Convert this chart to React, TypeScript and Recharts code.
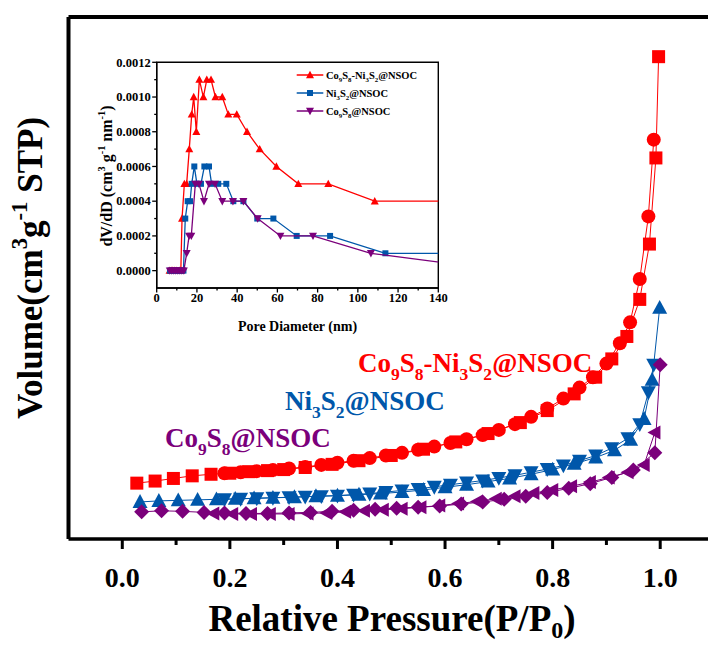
import React from 'react';
import { ScatterChart, Scatter, XAxis, YAxis, ReferenceLine, ReferenceArea, Legend, Customized } from 'recharts';

const SERIF = "'Liberation Serif', 'Times New Roman', Times, serif";
const RED = '#FF0000';
const BLUE = '#0057AA';
const PURPLE = '#7B007B';

// ---------- main isotherm (P/P0, volume in arbitrary units) ----------
const redAdsP = [0.027, 0.061, 0.095, 0.130, 0.165, 0.200, 0.235, 0.270, 0.300, 0.340, 0.390, 0.440, 0.500, 0.560, 0.620, 0.680, 0.740, 0.790, 0.840, 0.880, 0.910, 0.938, 0.962, 0.980, 0.992, 0.997];
const redAdsV = [10.7, 11.1, 11.6, 12.1, 12.4, 12.6, 12.9, 13.1, 13.3, 13.7, 14.3, 15.0, 16.0, 17.2, 18.6, 20.2, 22.3, 24.6, 27.8, 31.0, 34.5, 38.8, 45.9, 56.5, 73.0, 92.4];
const redDesP = [0.988, 0.978, 0.962, 0.944, 0.925, 0.900, 0.875, 0.850, 0.820, 0.790, 0.760, 0.730, 0.700, 0.670, 0.640, 0.610, 0.580, 0.550, 0.520, 0.490, 0.460, 0.430, 0.400, 0.370, 0.340, 0.310, 0.280, 0.250, 0.220, 0.190];
const redDesV = [76.5, 61.8, 49.8, 41.5, 37.5, 33.6, 31.0, 29.0, 26.9, 25.0, 23.4, 22.0, 20.9, 19.9, 19.1, 18.4, 17.7, 17.1, 16.5, 16.0, 15.5, 15.0, 14.6, 14.2, 13.8, 13.5, 13.2, 13.0, 12.8, 12.6];

const blueAdsP = [0.033, 0.068, 0.104, 0.140, 0.175, 0.210, 0.245, 0.280, 0.320, 0.360, 0.400, 0.440, 0.480, 0.520, 0.560, 0.600, 0.640, 0.680, 0.720, 0.760, 0.800, 0.840, 0.880, 0.915, 0.945, 0.970, 0.985, 0.999];
const blueAdsV = [7.1, 7.3, 7.4, 7.5, 7.6, 7.7, 7.8, 7.9, 8.0, 8.2, 8.3, 8.5, 8.7, 9.0, 9.4, 9.9, 10.4, 11.0, 11.6, 12.4, 13.3, 14.4, 15.6, 17.0, 19.0, 23.0, 30.5, 44.3];
const blueDesP = [0.988, 0.978, 0.962, 0.940, 0.910, 0.880, 0.850, 0.820, 0.790, 0.760, 0.730, 0.700, 0.670, 0.640, 0.610, 0.580, 0.550, 0.520, 0.490, 0.460, 0.430, 0.400, 0.370, 0.340, 0.310, 0.280, 0.250, 0.220, 0.190];
const blueDesV = [33.4, 28.1, 22.0, 19.3, 17.4, 16.0, 15.0, 14.1, 13.4, 12.8, 12.2, 11.7, 11.2, 10.8, 10.4, 10.0, 9.6, 9.3, 9.0, 8.7, 8.5, 8.3, 8.2, 8.1, 8.0, 7.9, 7.8, 7.7, 7.6];

const purpleAdsP = [0.036, 0.073, 0.112, 0.152, 0.190, 0.230, 0.270, 0.310, 0.350, 0.390, 0.430, 0.470, 0.510, 0.550, 0.590, 0.630, 0.670, 0.710, 0.750, 0.790, 0.830, 0.870, 0.910, 0.950, 0.990, 1.000];
const purpleAdsV = [5.2, 5.4, 5.3, 5.1, 5.0, 4.9, 4.9, 5.0, 5.1, 5.3, 5.5, 5.7, 5.9, 6.1, 6.3, 6.7, 7.1, 7.6, 8.2, 8.9, 9.7, 10.6, 11.8, 13.2, 16.5, 33.4];
const purpleDesP = [0.990, 0.970, 0.940, 0.905, 0.870, 0.835, 0.800, 0.765, 0.730, 0.695, 0.660, 0.625, 0.590, 0.555, 0.520, 0.485, 0.450, 0.415, 0.380, 0.345, 0.310, 0.275, 0.240, 0.205, 0.170];
const purpleDesV = [20.4, 14.2, 12.8, 11.8, 10.9, 10.1, 9.4, 8.8, 8.2, 7.7, 7.2, 6.8, 6.4, 6.1, 5.8, 5.6, 5.4, 5.2, 5.0, 4.9, 4.8, 4.8, 4.8, 4.8, 4.9];

const mainXTicks = [0, 0.1, 0.2, 0.3, 0.4, 0.5, 0.6, 0.7, 0.8, 0.9, 1.0];

// ---------- inset pore size distribution ----------
const redD = [6.4, 7.2, 8.0, 9.0, 10.0, 11.2, 12.0, 12.6, 13.75, 14.9, 16.2, 17.4, 18.4, 19.7, 21.2, 23.2, 24.9, 27.0, 29.2, 32.6, 35.6, 39.8, 44.9, 51.2, 59.5, 70.4, 85.3, 108.4, 180];
const redDV = [0, 0, 0, 0, 0, 0, 0, 0.0003, 0.0005, 0.0005, 0.0007, 0.0009, 0.0010, 0.0008, 0.0011, 0.0010, 0.0011, 0.0011, 0.0010, 0.0010, 0.0009, 0.0009, 0.0008, 0.0007, 0.0006, 0.0005, 0.0005, 0.0004, 0.0004];
const blueD = [6.6, 7.4, 8.2, 9.2, 10.2, 11.2, 12.2, 13.3, 14.2, 15.4, 16.6, 17.4, 18.7, 20.0, 22.0, 23.7, 26.0, 27.3, 30.6, 34.6, 38.1, 43.1, 50.0, 58.0, 69.6, 86.2, 113.7, 180];
const blueDV = [0, 0, 0, 0, 0, 0, 0, 0, 0.0003, 0.0004, 0.0004, 0.0005, 0.0006, 0.0005, 0.0005, 0.0006, 0.0006, 0.0005, 0.0005, 0.0005, 0.0004, 0.0004, 0.0003, 0.0003, 0.0002, 0.0002, 0.0001, 0.0001];
const purpleD = [6.5, 7.5, 8.5, 9.5, 10.5, 11.5, 12.5, 13.5, 14.9, 16.1, 17.2, 19.2, 21.0, 23.5, 26.0, 29.0, 32.6, 37.9, 43.1, 50.2, 61.5, 77.7, 106.5, 170];
const purpleDV = [0, 0, 0, 0, 0, 0, 0, 0, 0.0001, 0.0002, 0.0002, 0.0005, 0.0005, 0.0004, 0.0005, 0.0005, 0.0004, 0.0004, 0.0004, 0.0003, 0.0002, 0.0002, 0.0001, 0.000005];

const insetXTicks = [0, 10, 20, 30, 40, 50, 60, 70, 80, 90, 100, 110, 120, 130, 140];
const insetYTicks = [0, 0.0001, 0.0002, 0.0003, 0.0004, 0.0005, 0.0006, 0.0007, 0.0008, 0.0009, 0.0010, 0.0011, 0.0012];

type Part = [string, number]; // 0 normal, 1 subscript, 2 superscript
const labelRed: Part[] = [['Co', 0], ['9', 1], ['S', 0], ['8', 1], ['-Ni', 0], ['3', 1], ['S', 0], ['2', 1], ['@NSOC', 0]];
const labelBlue: Part[] = [['Ni', 0], ['3', 1], ['S', 0], ['2', 1], ['@NSOC', 0]];
const labelPurple: Part[] = [['Co', 0], ['9', 1], ['S', 0], ['8', 1], ['@NSOC', 0]];
const yTitle: Part[] = [['Volume(cm', 0], ['3', 2], ['g', 0], ['-1', 2], [' STP)', 0]];
const xTitle: Part[] = [['Relative Pressure(P/P', 0], ['0', 1], [')', 0]];
const insetYTitle: Part[] = [['dV/dD (cm', 0], ['3', 2], [' g', 0], ['-1', 2], [' nm', 0], ['-1', 2], [')', 0]];

const zip = (xs: number[], ys: number[], kx: string, ky: string) => xs.map((x, i) => ({ [kx]: x, [ky]: ys[i] }));

function rich(parts: Part[], fs: number, subShift = 0.28) {
  let cur = 0;
  return parts.map(([t, k], i) => {
    const target = k === 1 ? fs * subShift : k === 2 ? -fs * 0.42 : 0;
    const dy = target - cur;
    cur = target;
    return (
      <tspan key={i} dy={dy} fontSize={k ? fs * 0.65 : fs}>{t}</tspan>
    );
  });
}

const mkShape = (kind: string, color: string, s: number) => (props: any) => {
  const { cx, cy } = props;
  if (cx == null || cy == null || isNaN(cx) || isNaN(cy)) return <g />;
  const h = s / 2;
  switch (kind) {
    case 'square':
      return <rect x={cx - h} y={cy - h} width={s} height={s} fill={color} />;
    case 'circle':
      return <circle cx={cx} cy={cy} r={h} fill={color} />;
    case 'triUp':
      return <polygon points={`${cx},${cy - h * 1.05} ${cx - h},${cy + h * 0.8} ${cx + h},${cy + h * 0.8}`} fill={color} />;
    case 'triDown':
      return <polygon points={`${cx},${cy + h * 1.05} ${cx - h},${cy - h * 0.8} ${cx + h},${cy - h * 0.8}`} fill={color} />;
    case 'diamond':
      return <polygon points={`${cx},${cy - h} ${cx + h},${cy} ${cx},${cy + h} ${cx - h},${cy}`} fill={color} />;
    case 'triLeft':
      return <polygon points={`${cx - h * 1.05},${cy} ${cx + h * 0.8},${cy - h} ${cx + h * 0.8},${cy + h}`} fill={color} />;
    default:
      return <g />;
  }
};

function MainXTick(props: any) {
  const { x, y, payload } = props;
  const v = payload.value as number;
  const major = Math.round(v * 10) % 2 === 0;
  return (
    <g>
      <line x1={x} x2={x} y1={y} y2={y + (major ? 10 : 6)} stroke="#000" strokeWidth={3} />
      {major ? (
        <text x={x} y={y + 48} textAnchor="middle" fontFamily={SERIF} fontWeight="bold" fontSize={28} fill="#000">
          {v.toFixed(1)}
        </text>
      ) : null}
    </g>
  );
}

function InsetXTick(props: any) {
  const { x, y, payload } = props;
  const v = payload.value as number;
  const major = Math.round(v / 10) % 2 === 0;
  return (
    <g>
      <line x1={x} x2={x} y1={y} y2={y + (major ? 4.5 : 2.5)} stroke="#000" strokeWidth={1.3} />
      {major ? (
        <text x={x} y={y + 14} textAnchor="middle" fontFamily={SERIF} fontWeight="bold" fontSize={12.5} fill="#000">
          {v}
        </text>
      ) : null}
    </g>
  );
}

function InsetYTick(props: any) {
  const { x, y, payload } = props;
  const v = payload.value as number;
  const major = Math.round(v * 10000) % 2 === 0;
  return (
    <g>
      <line x1={x} x2={x - (major ? 4.5 : 2.5)} y1={y} y2={y} stroke="#000" strokeWidth={1.3} />
      {major ? (
        <text x={x - 6} y={y + 4.3} textAnchor="end" fontFamily={SERIF} fontWeight="bold" fontSize={12.5} fill="#000">
          {v.toFixed(4)}
        </text>
      ) : null}
    </g>
  );
}

function MainYTitle() {
  return (
    <text x={42} y={268} transform="rotate(-90 42 268)" textAnchor="middle" fontFamily={SERIF} fontWeight="bold" fontSize={35} fill="#000">
      {rich(yTitle, 35)}
    </text>
  );
}

function MainXTitle() {
  return (
    <text x={392} y={631} textAnchor="middle" fontFamily={SERIF} fontWeight="bold" fontSize={37} fill="#000">
      {rich(xTitle, 37, 0.2)}
    </text>
  );
}

function InsetYTitle() {
  return (
    <text x={22} y={136} transform="rotate(-90 22 136)" textAnchor="middle" fontFamily={SERIF} fontWeight="bold" fontSize={16} fill="#000">
      {rich(insetYTitle, 16)}
    </text>
  );
}

function InsetXTitle() {
  return (
    <text x={207.5} y={291} textAnchor="middle" fontFamily={SERIF} fontWeight="bold" fontSize={14} fill="#000">
      Pore Diameter (nm)
    </text>
  );
}

function SeriesLabels() {
  const fs = 27;
  return (
    <g fontFamily={SERIF} fontWeight="bold">
      <text x={358} y={372} fontSize={fs} fill={RED}>{rich(labelRed, fs)}</text>
      <text x={285} y={410} fontSize={fs} fill={BLUE}>{rich(labelBlue, fs)}</text>
      <text x={165} y={447} fontSize={fs} fill={PURPLE}>{rich(labelPurple, fs)}</text>
    </g>
  );
}

function InsetLegend() {
  const rows: { parts: Part[]; color: string; kind: string; s: number }[] = [
    { parts: labelRed, color: RED, kind: 'triUp', s: 8 },
    { parts: labelBlue, color: BLUE, kind: 'square', s: 6 },
    { parts: labelPurple, color: PURPLE, kind: 'triDown', s: 8 },
  ];
  return (
    <svg width={160} height={60} style={{ overflow: 'visible' }}>
      {rows.map((r, i) => {
        const y = 10 + i * 18;
        const Shape = mkShape(r.kind, r.color, r.s);
        return (
          <g key={i}>
            <line x1={6.7} x2={33.3} y1={y} y2={y} stroke={r.color} strokeWidth={1.5} />
            {Shape({ cx: 20, cy: y })}
            <text x={36} y={y + 3.8} fontFamily={SERIF} fontWeight="bold" fontSize={10.5} fill="#000">
              {rich(r.parts, 10.5)}
            </text>
          </g>
        );
      })}
    </svg>
  );
}

export default function App() {
  const redAds = zip(redAdsP, redAdsV, 'p', 'v');
  const redDes = zip(redDesP, redDesV, 'p', 'v');
  const blueAds = zip(blueAdsP, blueAdsV, 'p', 'v');
  const blueDes = zip(blueDesP, blueDesV, 'p', 'v');
  const purpleAds = zip(purpleAdsP, purpleAdsV, 'p', 'v');
  const purpleDes = zip(purpleDesP, purpleDesV, 'p', 'v');
  const redPsd = zip(redD, redDV, 'd', 'y');
  const bluePsd = zip(blueD, blueDV, 'd', 'y');
  const purplePsd = zip(purpleD, purpleDV, 'd', 'y');

  return (
    <div style={{ position: 'absolute', left: 0, top: 0, width: 708, height: 646, overflow: 'hidden', background: '#fff' }}>
      <ScatterChart width={716} height={646} margin={{ top: 17, right: 2, bottom: 0, left: 0 }}>
        <XAxis
          type="number"
          dataKey="p"
          domain={[-0.1, 1.1]}
          ticks={mainXTicks}
          interval={0}
          tickSize={0}
          tickMargin={0}
          tickLine={false}
          tick={<MainXTick />}
          axisLine={{ stroke: '#000', strokeWidth: 3.5 }}
          height={107}
          allowDataOverflow
          label={<MainXTitle />}
        />
        <YAxis
          type="number"
          dataKey="v"
          domain={[0, 100]}
          tick={false}
          tickLine={false}
          axisLine={{ stroke: '#000', strokeWidth: 4 }}
          width={68.5}
          allowDataOverflow
          label={<MainYTitle />}
        />
        <ReferenceLine y={100} stroke="#000" strokeWidth={4} />
        <Scatter data={redAds} shape={mkShape('square', RED, 13)} line={{ stroke: RED, strokeWidth: 1 }} isAnimationActive={false} />
        <Scatter data={redDes} shape={mkShape('circle', RED, 14)} line={{ stroke: RED, strokeWidth: 1 }} isAnimationActive={false} />
        <Scatter data={blueAds} shape={mkShape('triUp', BLUE, 15)} line={{ stroke: BLUE, strokeWidth: 1 }} isAnimationActive={false} />
        <Scatter data={blueDes} shape={mkShape('triDown', BLUE, 15)} line={{ stroke: BLUE, strokeWidth: 1 }} isAnimationActive={false} />
        <Scatter data={purpleAds} shape={mkShape('diamond', PURPLE, 15)} line={{ stroke: PURPLE, strokeWidth: 1 }} isAnimationActive={false} />
        <Scatter data={purpleDes} shape={mkShape('triLeft', PURPLE, 14)} line={{ stroke: PURPLE, strokeWidth: 1 }} isAnimationActive={false} />
        <Customized component={SeriesLabels} />
      </ScatterChart>

      <div style={{ position: 'absolute', left: 90, top: 40, width: 360, height: 300 }}>
        <ScatterChart width={360} height={300} margin={{ top: 22.3, right: 11.7, bottom: 0, left: 0 }}>
          <XAxis
            type="number"
            dataKey="d"
            domain={[0, 140]}
            ticks={insetXTicks}
            interval={0}
            tickSize={0}
            tickMargin={0}
            tickLine={false}
            tick={<InsetXTick />}
            axisLine={{ stroke: '#000', strokeWidth: 1.4 }}
            height={52}
            allowDataOverflow
            label={<InsetXTitle />}
          />
          <YAxis
            type="number"
            dataKey="y"
            domain={[-0.0001, 0.0012]}
            ticks={insetYTicks}
            interval={0}
            tickSize={0}
            tickMargin={0}
            tickLine={false}
            tick={<InsetYTick />}
            axisLine={{ stroke: '#000', strokeWidth: 1.4 }}
            width={66.7}
            allowDataOverflow
            label={<InsetYTitle />}
          />
          <ReferenceArea x1={0} x2={140} y1={-0.0001} y2={0.0012} fill="none" fillOpacity={0} stroke="#000" strokeWidth={1.4} ifOverflow="visible" />
          <Legend
            layout="horizontal"
            verticalAlign="middle"
            align="center"
            content={() => <InsetLegend />}
            wrapperStyle={{ position: 'absolute', left: 200, top: 25, width: 160, height: 60 }}
          />
          <Scatter data={redPsd} shape={mkShape('triUp', RED, 8)} line={{ stroke: RED, strokeWidth: 1.3 }} isAnimationActive={false} />
          <Scatter data={bluePsd} shape={mkShape('square', BLUE, 6)} line={{ stroke: BLUE, strokeWidth: 1.3 }} isAnimationActive={false} />
          <Scatter data={purplePsd} shape={mkShape('triDown', PURPLE, 8)} line={{ stroke: PURPLE, strokeWidth: 1.3 }} isAnimationActive={false} />
        </ScatterChart>
      </div>
    </div>
  );
}
